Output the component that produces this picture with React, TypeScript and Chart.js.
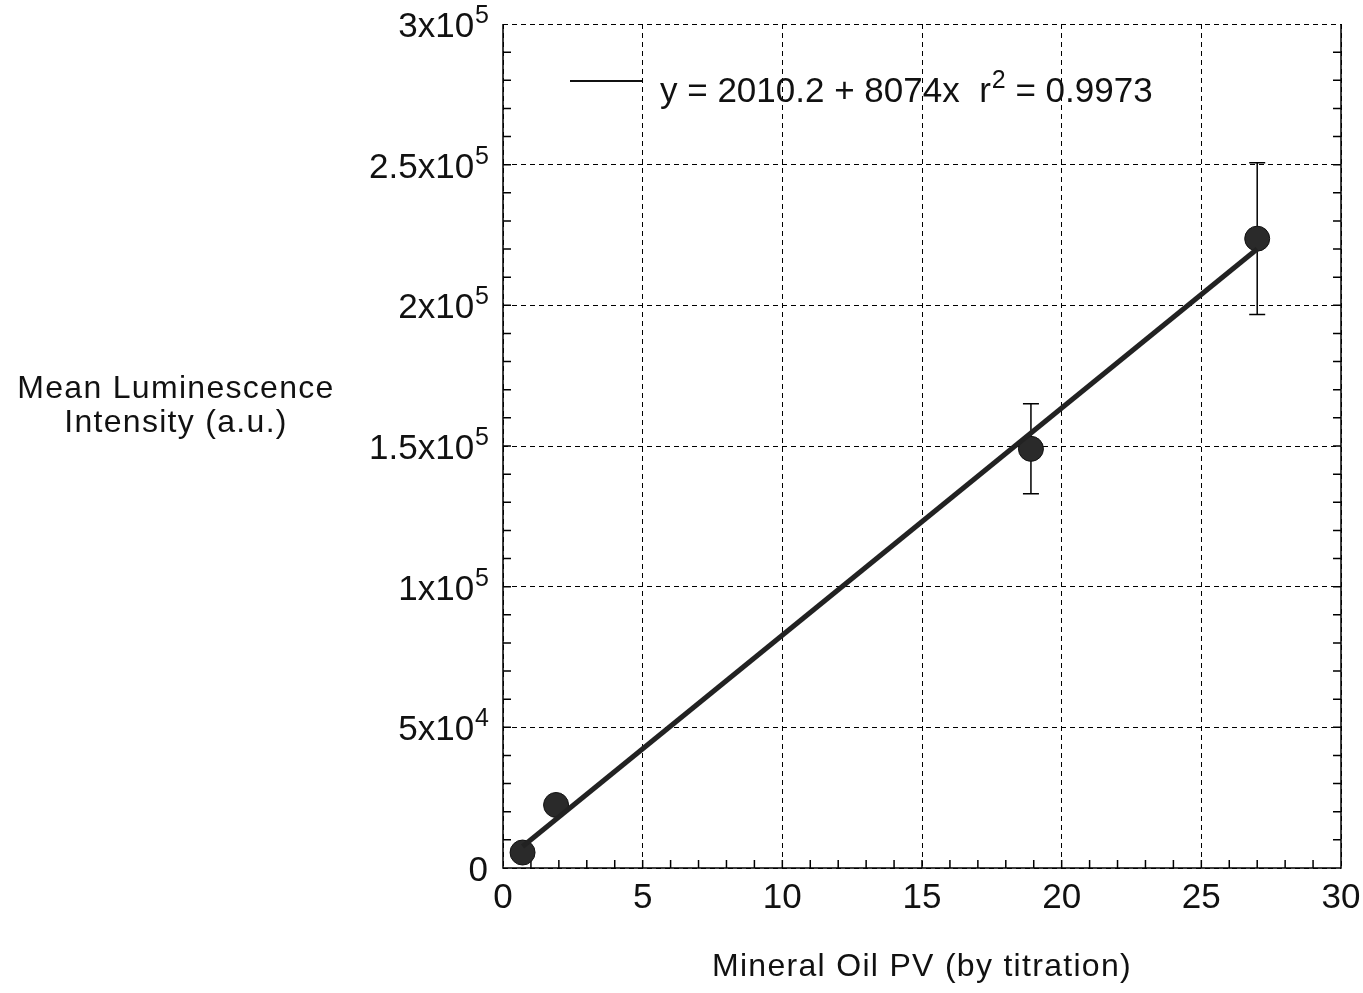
import React, { useEffect, useRef } from 'react';
import { Chart, registerables } from 'chart.js';
Chart.register(...registerables);

const xValues = [0.7, 1.9, 18.9, 27.0];
const yValues = [5500, 22400, 149000, 223700];
const yErrors = [0, 0, 16000, 27000];
const fitX = [0.7, 27.0];
const fitY = [7662, 220008];
const xTickValues = [0, 5, 10, 15, 20, 25, 30];
const xTickLabels = ['0', '5', '10', '15', '20', '25', '30'];
const yTickValues = [0, 50000, 100000, 150000, 200000, 250000, 300000];
const yTickBase = ['0', '5x10', '1x10', '1.5x10', '2x10', '2.5x10', '3x10'];
const yTickExp = ['', '4', '5', '5', '5', '5', '5'];
const legendHead = 'y = 2010.2 + 8074x  r';
const legendSup = '2';
const legendTail = ' = 0.9973';
const xTitle = 'Mineral Oil PV (by titration)';
const yTitle = ['Mean Luminescence', 'Intensity (a.u.)'];

const FONT = "'Liberation Sans', Arial, sans-serif";

const decorPlugin = {
  id: 'decor',
  beforeDatasetsDraw(chart: any) {
    const { ctx, chartArea: a, scales } = chart;
    const xs = scales.x, ys = scales.y;
    ctx.save();
    ctx.strokeStyle = '#000';
    ctx.lineWidth = 1.5;
    ctx.setLineDash([]);
    ctx.beginPath();
    ctx.moveTo(a.left, a.top);
    ctx.lineTo(a.left, a.bottom);
    ctx.lineTo(a.right, a.bottom);
    ctx.lineTo(a.right, a.top);
    ctx.stroke();
    ctx.beginPath();
    for (let v = 1; v < 30; v++) {
      const px = xs.getPixelForValue(v);
      ctx.moveTo(px, a.bottom);
      ctx.lineTo(px, a.bottom - 8);
    }
    for (let v = 10000; v < 300000; v += 10000) {
      const py = ys.getPixelForValue(v);
      ctx.moveTo(a.left, py);
      ctx.lineTo(a.left + 8, py);
      ctx.moveTo(a.right, py);
      ctx.lineTo(a.right - 8, py);
    }
    ctx.stroke();
    ctx.beginPath();
    for (let i = 0; i < xValues.length; i++) {
      if (!yErrors[i]) continue;
      const px = xs.getPixelForValue(xValues[i]);
      const top = ys.getPixelForValue(yValues[i] + yErrors[i]);
      const bot = ys.getPixelForValue(yValues[i] - yErrors[i]);
      ctx.moveTo(px, top);
      ctx.lineTo(px, bot);
      ctx.moveTo(px - 8, top);
      ctx.lineTo(px + 8, top);
      ctx.moveTo(px - 8, bot);
      ctx.lineTo(px + 8, bot);
    }
    ctx.stroke();
    ctx.restore();
  },
  afterDraw(chart: any) {
    const { ctx, chartArea: a, scales } = chart;
    const xs = scales.x, ys = scales.y;
    ctx.save();
    ctx.fillStyle = '#111';
    for (let i = 0; i < yTickValues.length; i++) {
      const py = ys.getPixelForValue(yTickValues[i]);
      ctx.font = `25px ${FONT}`;
      const supW = yTickExp[i] ? ctx.measureText(yTickExp[i]).width : 0;
      const right = a.left - 14;
      ctx.textAlign = 'right';
      ctx.textBaseline = 'alphabetic';
      if (yTickExp[i]) ctx.fillText(yTickExp[i], right, py - 1);
      ctx.font = `35px ${FONT}`;
      ctx.fillText(yTickBase[i], right - supW - 1, py + 13);
    }
    ctx.font = `35px ${FONT}`;
    ctx.textAlign = 'center';
    for (let i = 0; i < xTickValues.length; i++) {
      const px = xs.getPixelForValue(xTickValues[i]);
      ctx.fillText(xTickLabels[i], px, a.bottom + 40);
    }
    (ctx as any).letterSpacing = '1.3px';
    ctx.font = `32px ${FONT}`;
    ctx.textAlign = 'center';
    ctx.fillText(xTitle, (a.left + a.right) / 2, a.bottom + 108);
    ctx.fillText(yTitle[0], 176, 398);
    ctx.fillText(yTitle[1], 176, 432);
    (ctx as any).letterSpacing = '0px';
    ctx.strokeStyle = '#111';
    ctx.lineWidth = 2;
    ctx.beginPath();
    ctx.moveTo(570, 81);
    ctx.lineTo(642, 81);
    ctx.stroke();
    ctx.textAlign = 'left';
    ctx.font = `35px ${FONT}`;
    let x = 660;
    ctx.fillText(legendHead, x, 102);
    x += ctx.measureText(legendHead).width + 1;
    ctx.font = `25px ${FONT}`;
    ctx.fillText(legendSup, x, 88);
    x += ctx.measureText(legendSup).width;
    ctx.font = `35px ${FONT}`;
    ctx.fillText(legendTail, x, 102);
    ctx.restore();
  },
};

export default function App() {
  const ref = useRef<HTMLCanvasElement>(null);
  useEffect(() => {
    if (!ref.current) return;
    const chart = new Chart(ref.current, {
      type: 'scatter',
      data: {
        datasets: [
          {
            label: 'fit',
            data: fitX.map((x, i) => ({ x, y: fitY[i] })),
            showLine: true,
            borderColor: '#222',
            borderWidth: 5,
            pointRadius: 0,
          },
          {
            label: 'data',
            data: xValues.map((x, i) => ({ x, y: yValues[i] })),
            showLine: false,
            pointRadius: 12.5,
            pointBackgroundColor: '#2a2a2a',
            pointBorderColor: '#111',
            pointBorderWidth: 1,
          },
        ],
      },
      options: {
        animation: false,
        responsive: true,
        maintainAspectRatio: false,
        layout: { padding: { left: 503, right: 22, top: 24, bottom: 125 } },
        plugins: { legend: { display: false }, tooltip: { enabled: false } },
        scales: {
          x: {
            type: 'linear',
            min: 0,
            max: 30,
            ticks: { display: false, stepSize: 5 },
            grid: { color: '#000', lineWidth: 1, drawTicks: false },
            border: { display: false, dash: [5, 4] },
            afterFit: (s: any) => { s.height = 0; },
          },
          y: {
            type: 'linear',
            min: 0,
            max: 300000,
            ticks: { display: false, stepSize: 50000 },
            grid: { color: '#000', lineWidth: 1, drawTicks: false },
            border: { display: false, dash: [5, 4] },
            afterFit: (s: any) => { s.width = 0; },
          },
        },
      },
      plugins: [decorPlugin],
    });
    return () => chart.destroy();
  }, []);
  return (
    <div style={{ position: 'fixed', left: 0, top: 0, width: 1363, height: 993, background: '#fff' }}>
      <canvas ref={ref} />
    </div>
  );
}
